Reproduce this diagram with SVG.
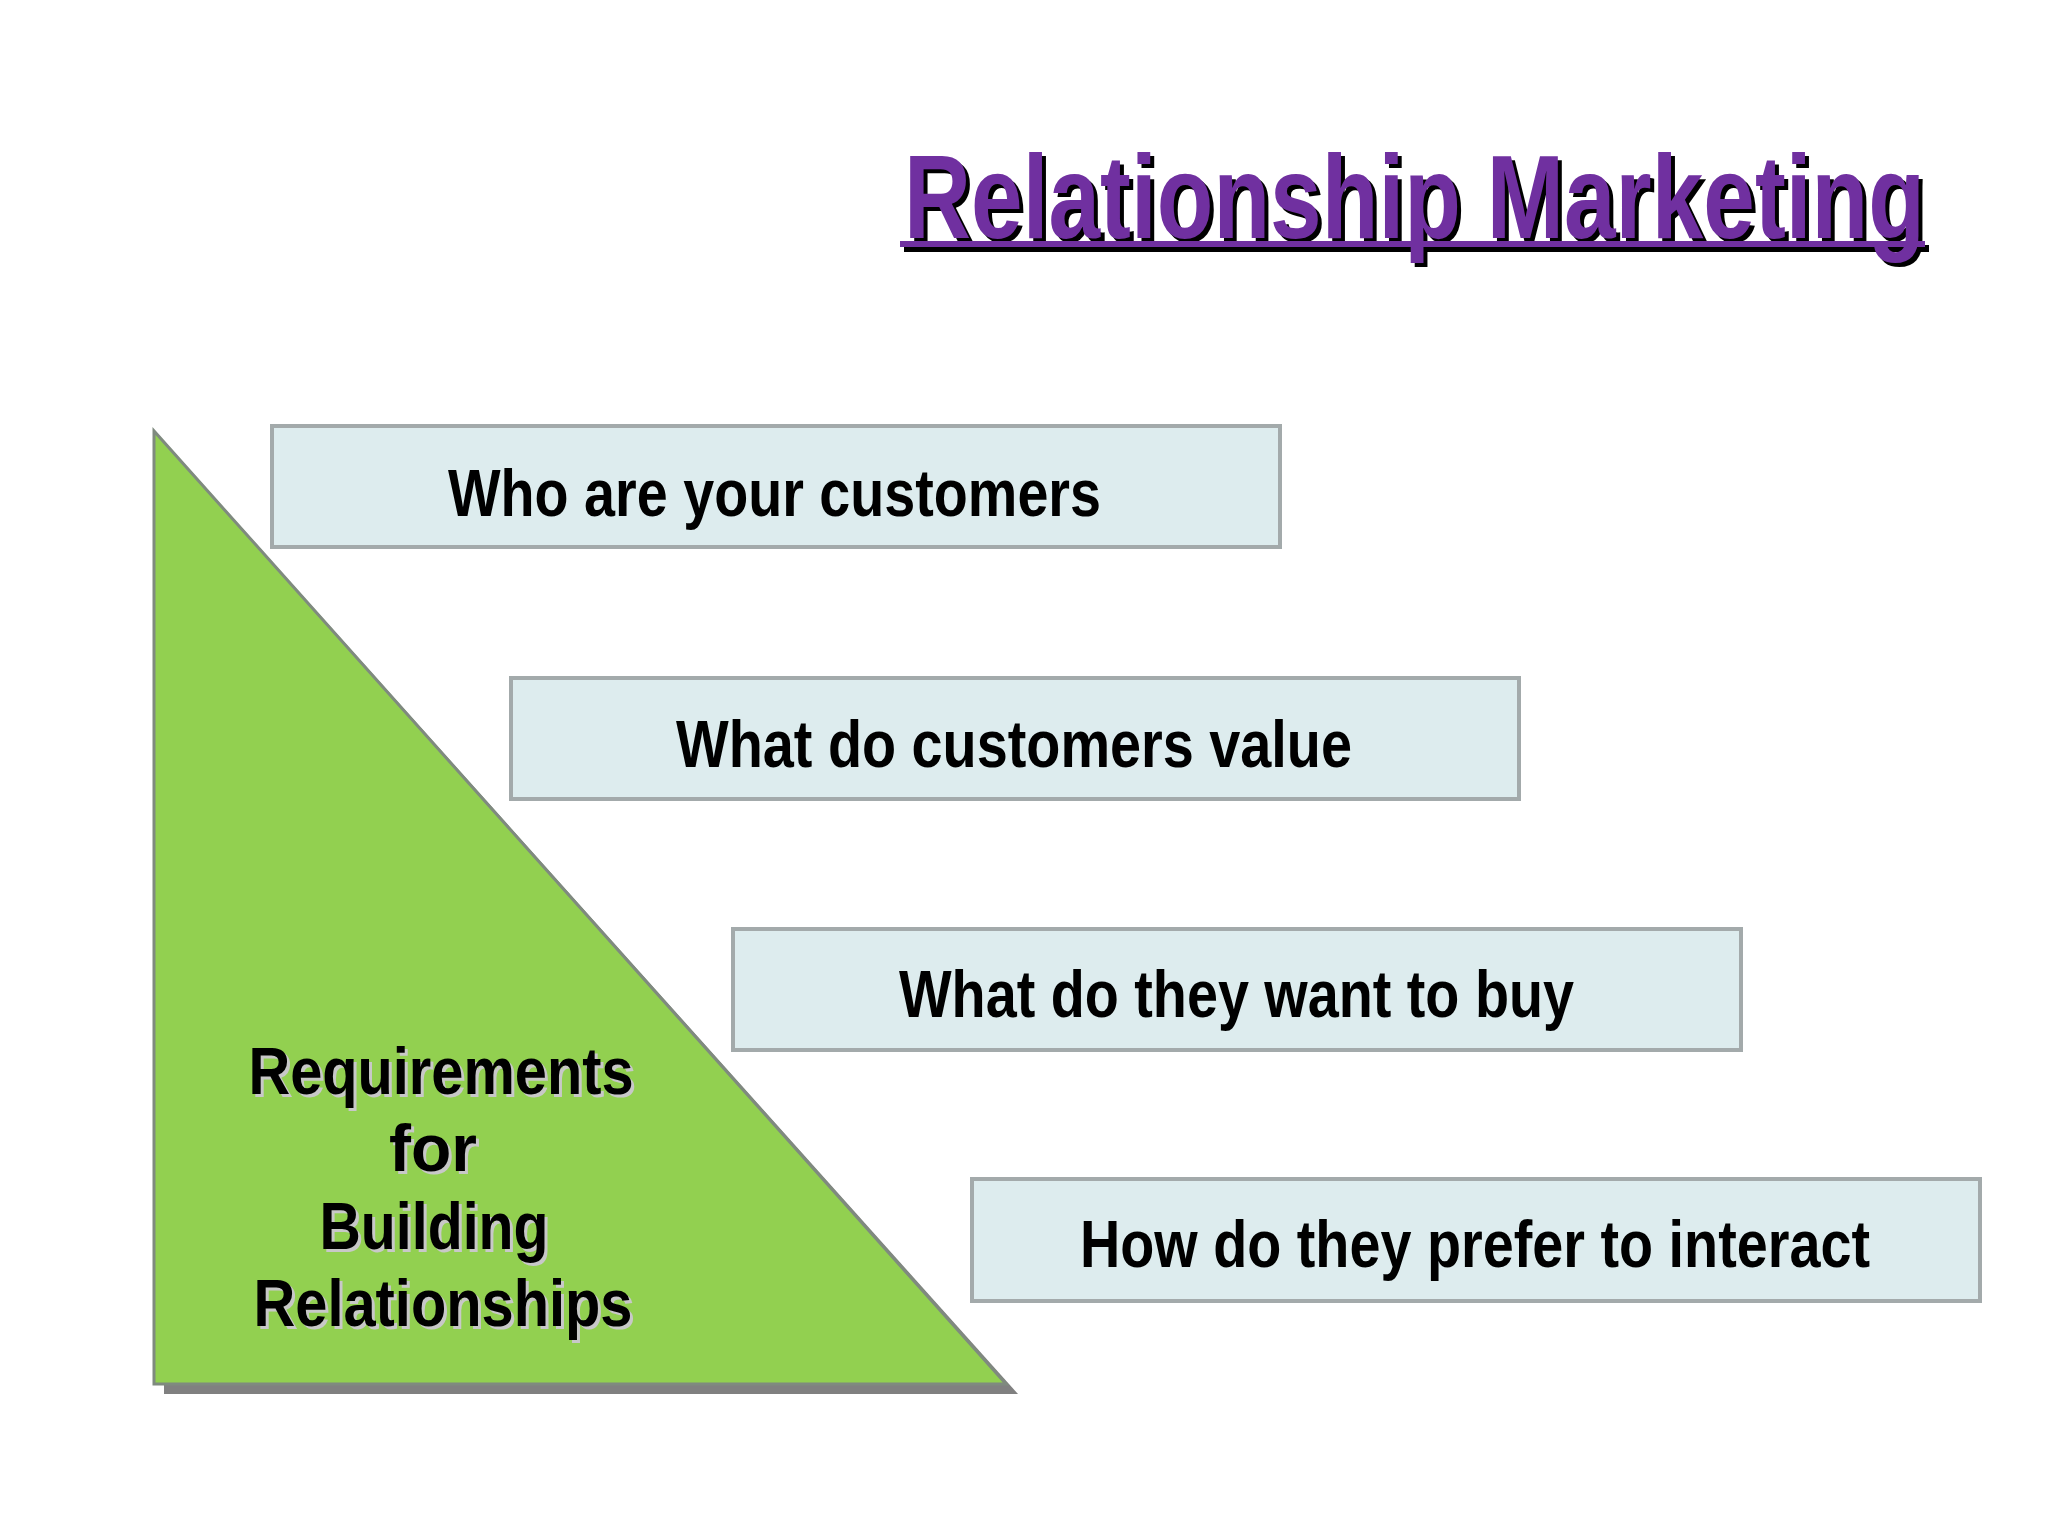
<svg xmlns="http://www.w3.org/2000/svg" width="2048" height="1536" viewBox="0 0 2048 1536">
<style>
.box{fill:#ddecee;stroke:#a3aaab;stroke-width:4}
.bt{font-family:"Liberation Sans",Arial,sans-serif;font-weight:bold;font-size:66px;fill:#000}
.lt{font-family:"Liberation Sans",Arial,sans-serif;font-weight:bold;font-size:66px;fill:#000;text-anchor:middle}
.ls{font-family:"Liberation Sans",Arial,sans-serif;font-weight:bold;font-size:66px;fill:#c8c8c8;text-anchor:middle}
</style>
<rect width="2048" height="1536" fill="#fff"/>
<g id="title">
<text x="908" y="242" font-family="Liberation Sans,Arial,sans-serif" font-weight="bold" font-size="118" fill="#000" textLength="1021" lengthAdjust="spacingAndGlyphs">Relationship Marketing</text>
<rect x="904" y="245" width="1025" height="7" fill="#000"/>
<text x="904" y="238" font-family="Liberation Sans,Arial,sans-serif" font-weight="bold" font-size="118" fill="#7030a0" textLength="1021" lengthAdjust="spacingAndGlyphs">Relationship Marketing</text>
<rect x="900" y="241" width="1025" height="6" fill="#7030a0"/>
</g>
<g id="triangle">
<polygon points="164,441 164,1394 1018,1394" fill="#808080"/>
<polygon points="154,431 154,1384 1006,1384" fill="#92d050" stroke="#7f8a7f" stroke-width="3"/>
<text class="ls" x="444" y="1097" textLength="385" lengthAdjust="spacingAndGlyphs">Requirements</text>
<text class="lt" x="441" y="1094" textLength="385" lengthAdjust="spacingAndGlyphs">Requirements</text>
<text class="ls" x="436" y="1174">for</text>
<text class="lt" x="433" y="1171">for</text>
<text class="ls" x="437" y="1252" textLength="229" lengthAdjust="spacingAndGlyphs">Building</text>
<text class="lt" x="434" y="1249" textLength="229" lengthAdjust="spacingAndGlyphs">Building</text>
<text class="ls" x="446" y="1329" textLength="379" lengthAdjust="spacingAndGlyphs">Relationships</text>
<text class="lt" x="443" y="1326" textLength="379" lengthAdjust="spacingAndGlyphs">Relationships</text>
</g>
<g id="box1"><rect class="box" x="272" y="426" width="1008" height="121"/><text class="bt" x="448" y="516" textLength="653" lengthAdjust="spacingAndGlyphs">Who are your customers</text></g>
<g id="box2"><rect class="box" x="511" y="678" width="1008" height="121"/><text class="bt" x="676" y="767" textLength="676" lengthAdjust="spacingAndGlyphs">What do customers value</text></g>
<g id="box3"><rect class="box" x="733" y="929" width="1008" height="121"/><text class="bt" x="899" y="1017" textLength="675" lengthAdjust="spacingAndGlyphs">What do they want to buy</text></g>
<g id="box4"><rect class="box" x="972" y="1179" width="1008" height="122"/><text class="bt" x="1080" y="1267" textLength="790" lengthAdjust="spacingAndGlyphs">How do they prefer to interact</text></g>
<g id="connectors"/>
</svg>
